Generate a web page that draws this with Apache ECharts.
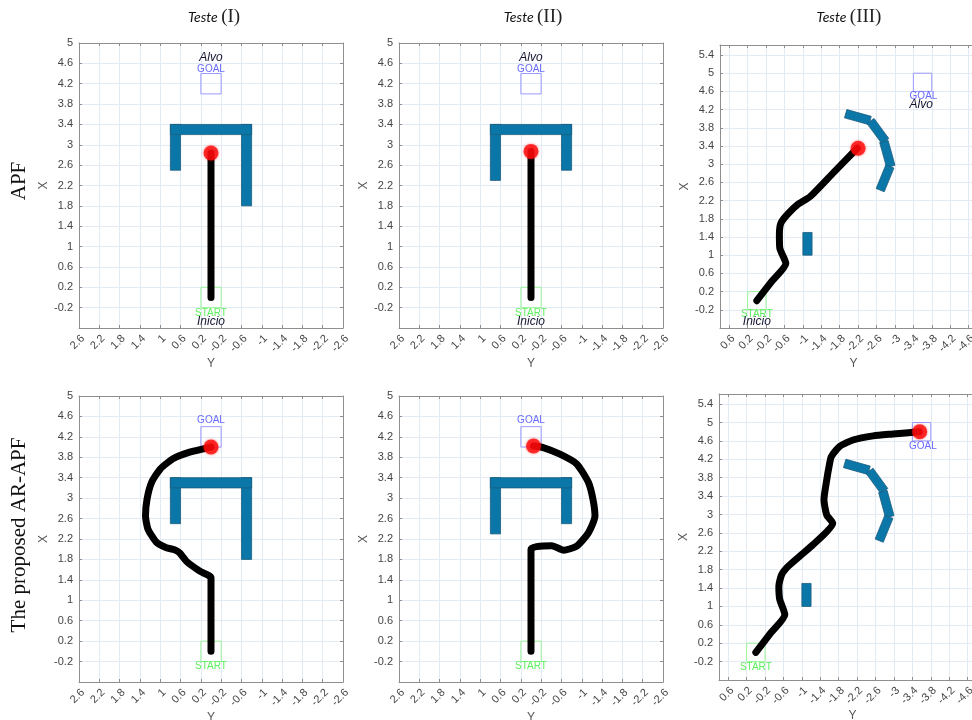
<!DOCTYPE html>
<html>
<head>
<meta charset="utf-8">
<script src="https://cdn.jsdelivr.net/npm/echarts@6/dist/echarts.min.js"></script>
<style>
  html, body { margin: 0; padding: 0; background: #ffffff; }
  #chart { width: 972px; height: 720px; }
</style>
</head>
<body>
<div id="chart"></div>
<script>
// Robot trajectories in the plane, each point is [Y, X] in metres.
const apfPathI = [[0, 0], [0, 0.6], [0, 1.2], [0, 1.8], [0, 2.4], [0, 2.84]];
const apfPathII = [[0, 0], [0, 0.6], [0, 1.2], [0, 1.8], [0, 2.4], [0, 2.87]];
const apfPathIII = [[0, 0], [-0.32, 0.42], [-0.63, 0.82], [-0.5, 1.15], [-0.49, 1.44], [-0.52, 1.7],
  [-0.65, 1.88], [-0.87, 2.1], [-1.16, 2.29], [-1.67, 2.82], [-2.18, 3.35]];

const arPathI = [[0, 0], [0, 0.7], [0, 1.44], [0.22, 1.57], [0.48, 1.76], [0.62, 1.93], [0.72, 1.99],
  [0.88, 2.03], [1.07, 2.13], [1.24, 2.39], [1.29, 2.65], [1.26, 2.98], [1.17, 3.31], [1.0, 3.57],
  [0.75, 3.77], [0.42, 3.9], [0.0, 4.0]];
const arPathII = [[0, 0], [0, 1.0], [0, 2.0], [-0.11, 2.05], [-0.41, 2.07], [-0.64, 1.98], [-0.9, 2.06],
  [-1.13, 2.32], [-1.26, 2.65], [-1.22, 2.98], [-1.13, 3.31], [-0.9, 3.67], [-0.57, 3.86],
  [-0.24, 3.99], [-0.05, 4.02]];
const arPathIII = [[0, 0], [-0.32, 0.42], [-0.63, 0.82], [-0.52, 1.15], [-0.5, 1.44], [-0.56, 1.69],
  [-0.7, 1.87], [-0.95, 2.09], [-1.24, 2.34], [-1.67, 2.81], [-1.54, 2.99], [-1.48, 3.32],
  [-1.54, 3.75], [-1.59, 4.04], [-1.64, 4.26], [-1.82, 4.48], [-2.11, 4.62], [-2.55, 4.71],
  [-2.98, 4.75], [-3.55, 4.8]];

// Final robot positions [Y, X]
const apfEnd = [[0, 2.84], [0, 2.87], [-2.2, 3.35]];
const arEnd = [[0, 4.0], [-0.05, 4.02], [-3.56, 4.8]];

// Axis-aligned obstacles [Y1, Y2, X1, X2]
const obstaclesI = [[0.8, 0.6, 2.5, 3.4], [-0.6, -0.8, 1.8, 3.4], [0.8, -0.8, 3.2, 3.4]];
const obstaclesII = [[0.8, 0.6, 2.3, 3.4], [-0.6, -0.8, 2.5, 3.4], [0.8, -0.8, 3.2, 3.4]];
const obstaclesIII = [[-1.0, -1.2, 1.0, 1.5]];
// Tilted wall segments of scenario III [Ya, Xa, Yb, Xb, thickness]
const arcWallIII = [[-1.93, 4.11, -2.46, 3.96, 0.19], [-2.47, 3.95, -2.79, 3.51, 0.19],
  [-2.76, 3.50, -2.91, 2.95, 0.19], [-2.89, 2.95, -2.68, 2.43, 0.19]];

// Goal and start regions [Y1, Y2, X1, X2]
const goalBoxI = [0.2, -0.2, 4.0, 4.4];
const goalBoxIII = [-3.4, -3.8, 4.6, 5.0];
const startBox = [0.2, -0.2, -0.2, 0.2];

// Annotations [Y, X, text, style]
const notesApfI = [[0, 4.71, 'Alvo', 'pt'], [0, 4.49, 'GOAL', 'goal'], [0, -0.31, 'START', 'start'], [0, -0.48, 'Inicio', 'pt']];
const notesApfII = [[0, 4.71, 'Alvo', 'pt'], [0, 4.49, 'GOAL', 'goal'], [0, -0.31, 'START', 'start'], [0, -0.48, 'Inicio', 'pt']];
const notesApfIII = [[-3.62, 4.5, 'GOAL', 'goal'], [-3.57, 4.3, 'Alvo', 'pt'], [0, -0.3, 'START', 'start'], [0, -0.47, 'Inicio', 'pt']];
const notesArI = [[0, 4.52, 'GOAL', 'goal'], [0, -0.29, 'START', 'start']];
const notesArII = [[0, 4.52, 'GOAL', 'goal'], [0, -0.29, 'START', 'start']];
const notesArIII = [[-3.63, 4.49, 'GOAL', 'goal'], [0, -0.32, 'START', 'start']];

// Axis ranges; the listed extents carry no tick label
const rangeYI = [-2.6, 2.6];
const rangeYIII = [-5.0, 0.8];
const rangeXI = [-0.6, 5.0];
const rangeXIII = [-0.6, 5.62];
const unlabeledYI = [];
const unlabeledYIII = [0.8];
const unlabeledX = [-0.6, 5.62];
const columnTitles = ['I', 'II', 'III'];
const rowTitles = ['APF', 'The proposed AR-APF'];

const FONT = '"Liberation Sans", Arial, sans-serif';
const SERIF = '"Liberation Serif", "Times New Roman", serif';
const AXIS = '#8f8f8f';
const GRIDC = '#e2ebf3';
const WALL = '#0b77a8';
const WALL_EDGE = '#1c5d7e';

const panels = [
  { grid: { left: 79, top: 43, width: 264, height: 285 }, yr: rangeYI, yHide: unlabeledYI, xr: rangeXI, rects: obstaclesI, walls: [], goal: goalBoxI, path: apfPathI, end: apfEnd[0], notes: notesApfI },
  { grid: { left: 399, top: 43, width: 264, height: 285 }, yr: rangeYI, yHide: unlabeledYI, xr: rangeXI, rects: obstaclesII, walls: [], goal: goalBoxI, path: apfPathII, end: apfEnd[1], notes: notesApfII },
  { grid: { left: 720, top: 45, width: 267, height: 283 }, yr: rangeYIII, yHide: unlabeledYIII, xr: rangeXIII, rects: obstaclesIII, walls: arcWallIII, goal: goalBoxIII, path: apfPathIII, end: apfEnd[2], notes: notesApfIII },
  { grid: { left: 79, top: 396, width: 264, height: 286 }, yr: rangeYI, yHide: unlabeledYI, xr: rangeXI, rects: obstaclesI, walls: [], goal: goalBoxI, path: arPathI, end: arEnd[0], notes: notesArI },
  { grid: { left: 399, top: 396, width: 264, height: 286 }, yr: rangeYI, yHide: unlabeledYI, xr: rangeXI, rects: obstaclesII, walls: [], goal: goalBoxI, path: arPathII, end: arEnd[1], notes: notesArII },
  { grid: { left: 719, top: 394, width: 267, height: 286 }, yr: rangeYIII, yHide: unlabeledYIII, xr: rangeXIII, rects: obstaclesIII, walls: arcWallIII, goal: goalBoxIII, path: arPathIII, end: arEnd[2], notes: notesArIII }
];

function tickFormatter(hidden) {
  return function (v) {
    for (const h of hidden) { if (Math.abs(v - h) < 1e-6) return ''; }
    return String(Math.round(v * 10) / 10);
  };
}

const grids = [], xAxes = [], yAxes = [], series = [];

const noteStyles = {
  goal: { fill: '#6a6aff', font: '10px ' + FONT },
  start: { fill: '#5cf05c', font: '10px ' + FONT },
  pt: { fill: '#141432', font: 'italic 12px ' + FONT }
};

panels.forEach((p, i) => {
  grids.push(Object.assign({ show: false, outerBoundsMode: 'none' }, p.grid));
  const xBase = { type: 'value', gridIndex: i, min: p.yr[0], max: p.yr[1], interval: 0.4, inverse: true };
  const yBase = { type: 'value', gridIndex: i, min: p.xr[0], max: p.xr[1], interval: 0.4 };
  const line = { show: true, onZero: false, lineStyle: { color: AXIS, width: 1 } };
  const tick = { show: true, inside: true, length: 3, lineStyle: { color: AXIS } };
  xAxes.push(Object.assign({}, xBase, {
    position: 'bottom', name: 'Y', nameLocation: 'middle', nameGap: 30,
    nameTextStyle: { color: '#555', fontSize: 12, fontFamily: FONT },
    axisLine: line, axisTick: tick,
    axisLabel: { rotate: 45, margin: 5, verticalAlign: 'top', fontSize: 11, color: '#444', fontFamily: FONT, hideOverlap: false, formatter: tickFormatter(p.yHide) },
    splitLine: { show: true, lineStyle: { color: GRIDC, width: 1 } }
  }));
  xAxes.push(Object.assign({}, xBase, {
    position: 'top', axisLine: line, axisTick: tick, axisLabel: { show: false }, splitLine: { show: false }
  }));
  yAxes.push(Object.assign({}, yBase, {
    position: 'left', name: 'X', nameLocation: 'middle', nameGap: 27, nameRotate: 90,
    nameTextStyle: { color: '#555', fontSize: 12, fontFamily: FONT },
    axisLine: line, axisTick: tick,
    axisLabel: { margin: 6, fontSize: 11, color: '#444', fontFamily: FONT, formatter: tickFormatter(unlabeledX) },
    splitLine: { show: true, lineStyle: { color: GRIDC, width: 1 } }
  }));
  yAxes.push(Object.assign({}, yBase, {
    position: 'right', axisLine: line, axisTick: tick, axisLabel: { show: false }, splitLine: { show: false }
  }));

  const ax = { xAxisIndex: 2 * i, yAxisIndex: 2 * i };

  // goal and start regions
  const boxes = [{ box: p.goal, color: '#9a9aff' }, { box: startBox, color: '#9cf59c' }];
  boxes.forEach(b => {
    series.push(Object.assign({
      type: 'custom', silent: true, z: 2, clip: true, data: [b.box],
      renderItem: (params, api) => {
        const a = api.coord([api.value(0), api.value(3)]);
        const c = api.coord([api.value(1), api.value(2)]);
        return { type: 'rect', shape: { x: Math.min(a[0], c[0]), y: Math.min(a[1], c[1]), width: Math.abs(c[0] - a[0]), height: Math.abs(c[1] - a[1]) },
          style: { fill: 'none', stroke: b.color, lineWidth: 1 } };
      }
    }, ax));
  });

  // rectangular obstacles
  series.push(Object.assign({
    type: 'custom', silent: true, z: 3, clip: true, data: p.rects,
    renderItem: (params, api) => {
      const a = api.coord([api.value(0), api.value(3)]);
      const c = api.coord([api.value(1), api.value(2)]);
      return { type: 'rect', shape: { x: Math.min(a[0], c[0]), y: Math.min(a[1], c[1]), width: Math.abs(c[0] - a[0]), height: Math.abs(c[1] - a[1]) },
        style: { fill: WALL, stroke: WALL_EDGE, lineWidth: 0.8 } };
    }
  }, ax));

  // tilted wall pieces
  if (p.walls.length) {
    series.push(Object.assign({
      type: 'custom', silent: true, z: 3, clip: true, data: p.walls,
      renderItem: (params, api) => {
        const ya = api.value(0), xa = api.value(1), yb = api.value(2), xb = api.value(3), t = api.value(4);
        const dy = yb - ya, dx = xb - xa, len = Math.hypot(dy, dx);
        const ny = -dx / len * t / 2, nx = dy / len * t / 2;
        const pts = [[ya + ny, xa + nx], [yb + ny, xb + nx], [yb - ny, xb - nx], [ya - ny, xa - nx]].map(q => api.coord(q));
        return { type: 'polygon', shape: { points: pts }, style: { fill: WALL, stroke: WALL_EDGE, lineWidth: 0.8 } };
      }
    }, ax));
  }

  // trajectory
  series.push(Object.assign({
    type: 'line', silent: true, z: 5, data: p.path, showSymbol: false, smooth: 0.2,
    lineStyle: { color: '#000', width: 7, cap: 'round', join: 'round' }
  }, ax));

  // robot position
  series.push(Object.assign({
    type: 'scatter', silent: true, z: 6, data: [p.end], symbol: 'circle', symbolSize: 15,
    itemStyle: { color: '#ff0a0a', shadowBlur: 3, shadowColor: 'rgba(255,0,0,0.6)' }
  }, ax));

  // annotations
  const notes = p.notes;
  series.push(Object.assign({
    type: 'custom', silent: true, z: 7, clip: false, data: notes.map(n => [n[0], n[1]]),
    renderItem: (params, api) => {
      const pos = api.coord([api.value(0), api.value(1)]);
      const n = notes[params.dataIndex];
      const st = noteStyles[n[3]];
      return { type: 'text', x: pos[0], y: pos[1],
        style: { text: n[2], fill: st.fill, font: st.font, align: 'center', verticalAlign: 'middle' } };
    }
  }, ax));
});

// Column headings and row headings
const graphics = [];
const titleCenters = [214, 533, 849];
columnTitles.forEach((t, i) => {
  graphics.push({
    type: 'text', x: titleCenters[i], y: 17,
    style: {
      text: '{a|Teste} {b|(' + t + ')}', align: 'center', verticalAlign: 'middle',
      rich: {
        a: { fontFamily: 'Lato, "Liberation Sans", sans-serif', fontStyle: 'italic', fontSize: 14, fill: '#111', color: '#111' },
        b: { fontFamily: SERIF, fontSize: 19, fill: '#222', color: '#222' }
      }
    }
  });
});
const rowCenters = [181, 535];
rowTitles.forEach((t, i) => {
  graphics.push({
    type: 'text', x: 19, y: rowCenters[i], rotation: Math.PI / 2,
    style: { text: t, font: '21px ' + SERIF, fill: '#111', align: 'center', verticalAlign: 'middle' }
  });
});

const chart = echarts.init(document.getElementById('chart'), null, { renderer: 'canvas' });
chart.setOption({
  backgroundColor: '#ffffff',
  animation: false,
  grid: grids,
  xAxis: xAxes,
  yAxis: yAxes,
  series: series,
  graphic: graphics
});
</script>
</body>
</html>
